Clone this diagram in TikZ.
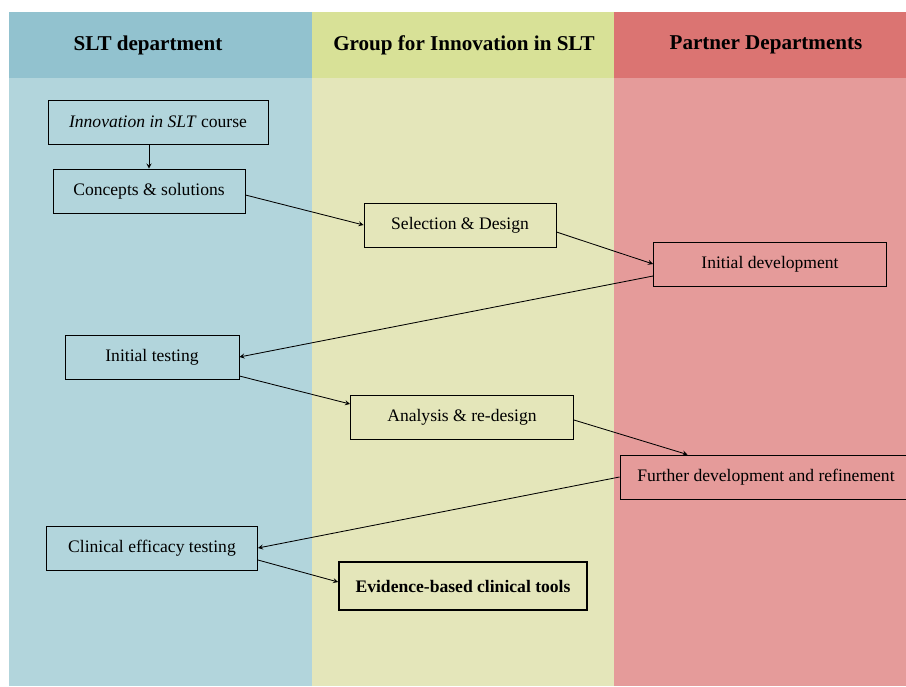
\documentclass[tikz,border=0pt]{standalone}
\usepackage{fontspec}
\setmainfont{Liberation Serif}
\definecolor{sltHead}{HTML}{92C2CF}
\definecolor{sltBody}{HTML}{B2D5DC}
\definecolor{grpHead}{HTML}{D8E197}
\definecolor{grpBody}{HTML}{E4E6BA}
\definecolor{ptnHead}{HTML}{DB7472}
\definecolor{ptnBody}{HTML}{E59B9A}
\begin{document}
\begin{tikzpicture}[x=0.025cm, y=-0.025cm, ->, >=stealth, line width=0.6pt,
	every node/.style={font=\fontsize{12.5}{15}\selectfont},
	box/.style={draw, rectangle, minimum height=1.1cm, inner sep=2pt},
	head/.style={font=\fontsize{15}{18}\selectfont\bfseries}]

	% columns
	\useasboundingbox (0,0) rectangle (906,686);
	\fill [sltBody] (9,78) rectangle (312,686);
	\fill [grpBody] (312,78) rectangle (614,686);
	\fill [ptnBody] (614,78) rectangle (906,686);
	\fill [sltHead] (9,12) rectangle (312,78);
	\fill [grpHead] (312,12) rectangle (614,78);
	\fill [ptnHead] (614,12) rectangle (906,78);

	\node [head] (HS) at (148,45) {SLT department};
	\node [head] (HG) at (464,45) {Group for Innovation in SLT};
	\node [head] (HP) at (766,45) {Partner Departments};

	% boxes
	\node [box, minimum width=5.5cm] (IC) at (158,122) {\textit{Innovation in SLT} course};
	\node [box, minimum width=4.8cm] (CS) at (149,191) {Concepts \& solutions};
	\node [box, minimum width=4.8cm] (SD) at (460,225) {Selection \& Design};
	\node [box, minimum width=5.825cm] (ID) at (770,264) {Initial development};
	\node [box, minimum width=4.35cm] (IT) at (152,357) {Initial testing};
	\node [box, minimum width=5.575cm] (AR) at (462,417) {Analysis \& re-design};
	\node [box, minimum width=7.3cm] (FD) at (766,477) {Further development and refinement};
	\node [box, minimum width=5.275cm] (CE) at (152,548) {Clinical efficacy testing};
	\node [box, minimum width=6.2cm, minimum height=1.2cm, line width=1.2pt, font=\fontsize{12.5}{15}\selectfont\bfseries] (EB) at (463,586) {Evidence-based clinical tools};

	% flow
	\draw (IC.south -| CS.north) -- (CS.north);
	\draw ([yshift=-0.1cm]CS.east) -- (SD.west);
	\draw ([yshift=-0.175cm]SD.east) -- (ID.west);
	\draw ([yshift=-0.3cm]ID.west) -- (IT.east);
	\draw ([yshift=-0.475cm]IT.east) -- ([yshift=0.325cm]AR.west);
	\draw ([yshift=-0.075cm]AR.east) -- ([xshift=1.7cm]FD.north west);
	\draw (FD.west) -- (CE.east);
	\draw ([yshift=-0.3cm]CE.east) -- ([yshift=0.1cm]EB.west);

\end{tikzpicture}
\end{document}
